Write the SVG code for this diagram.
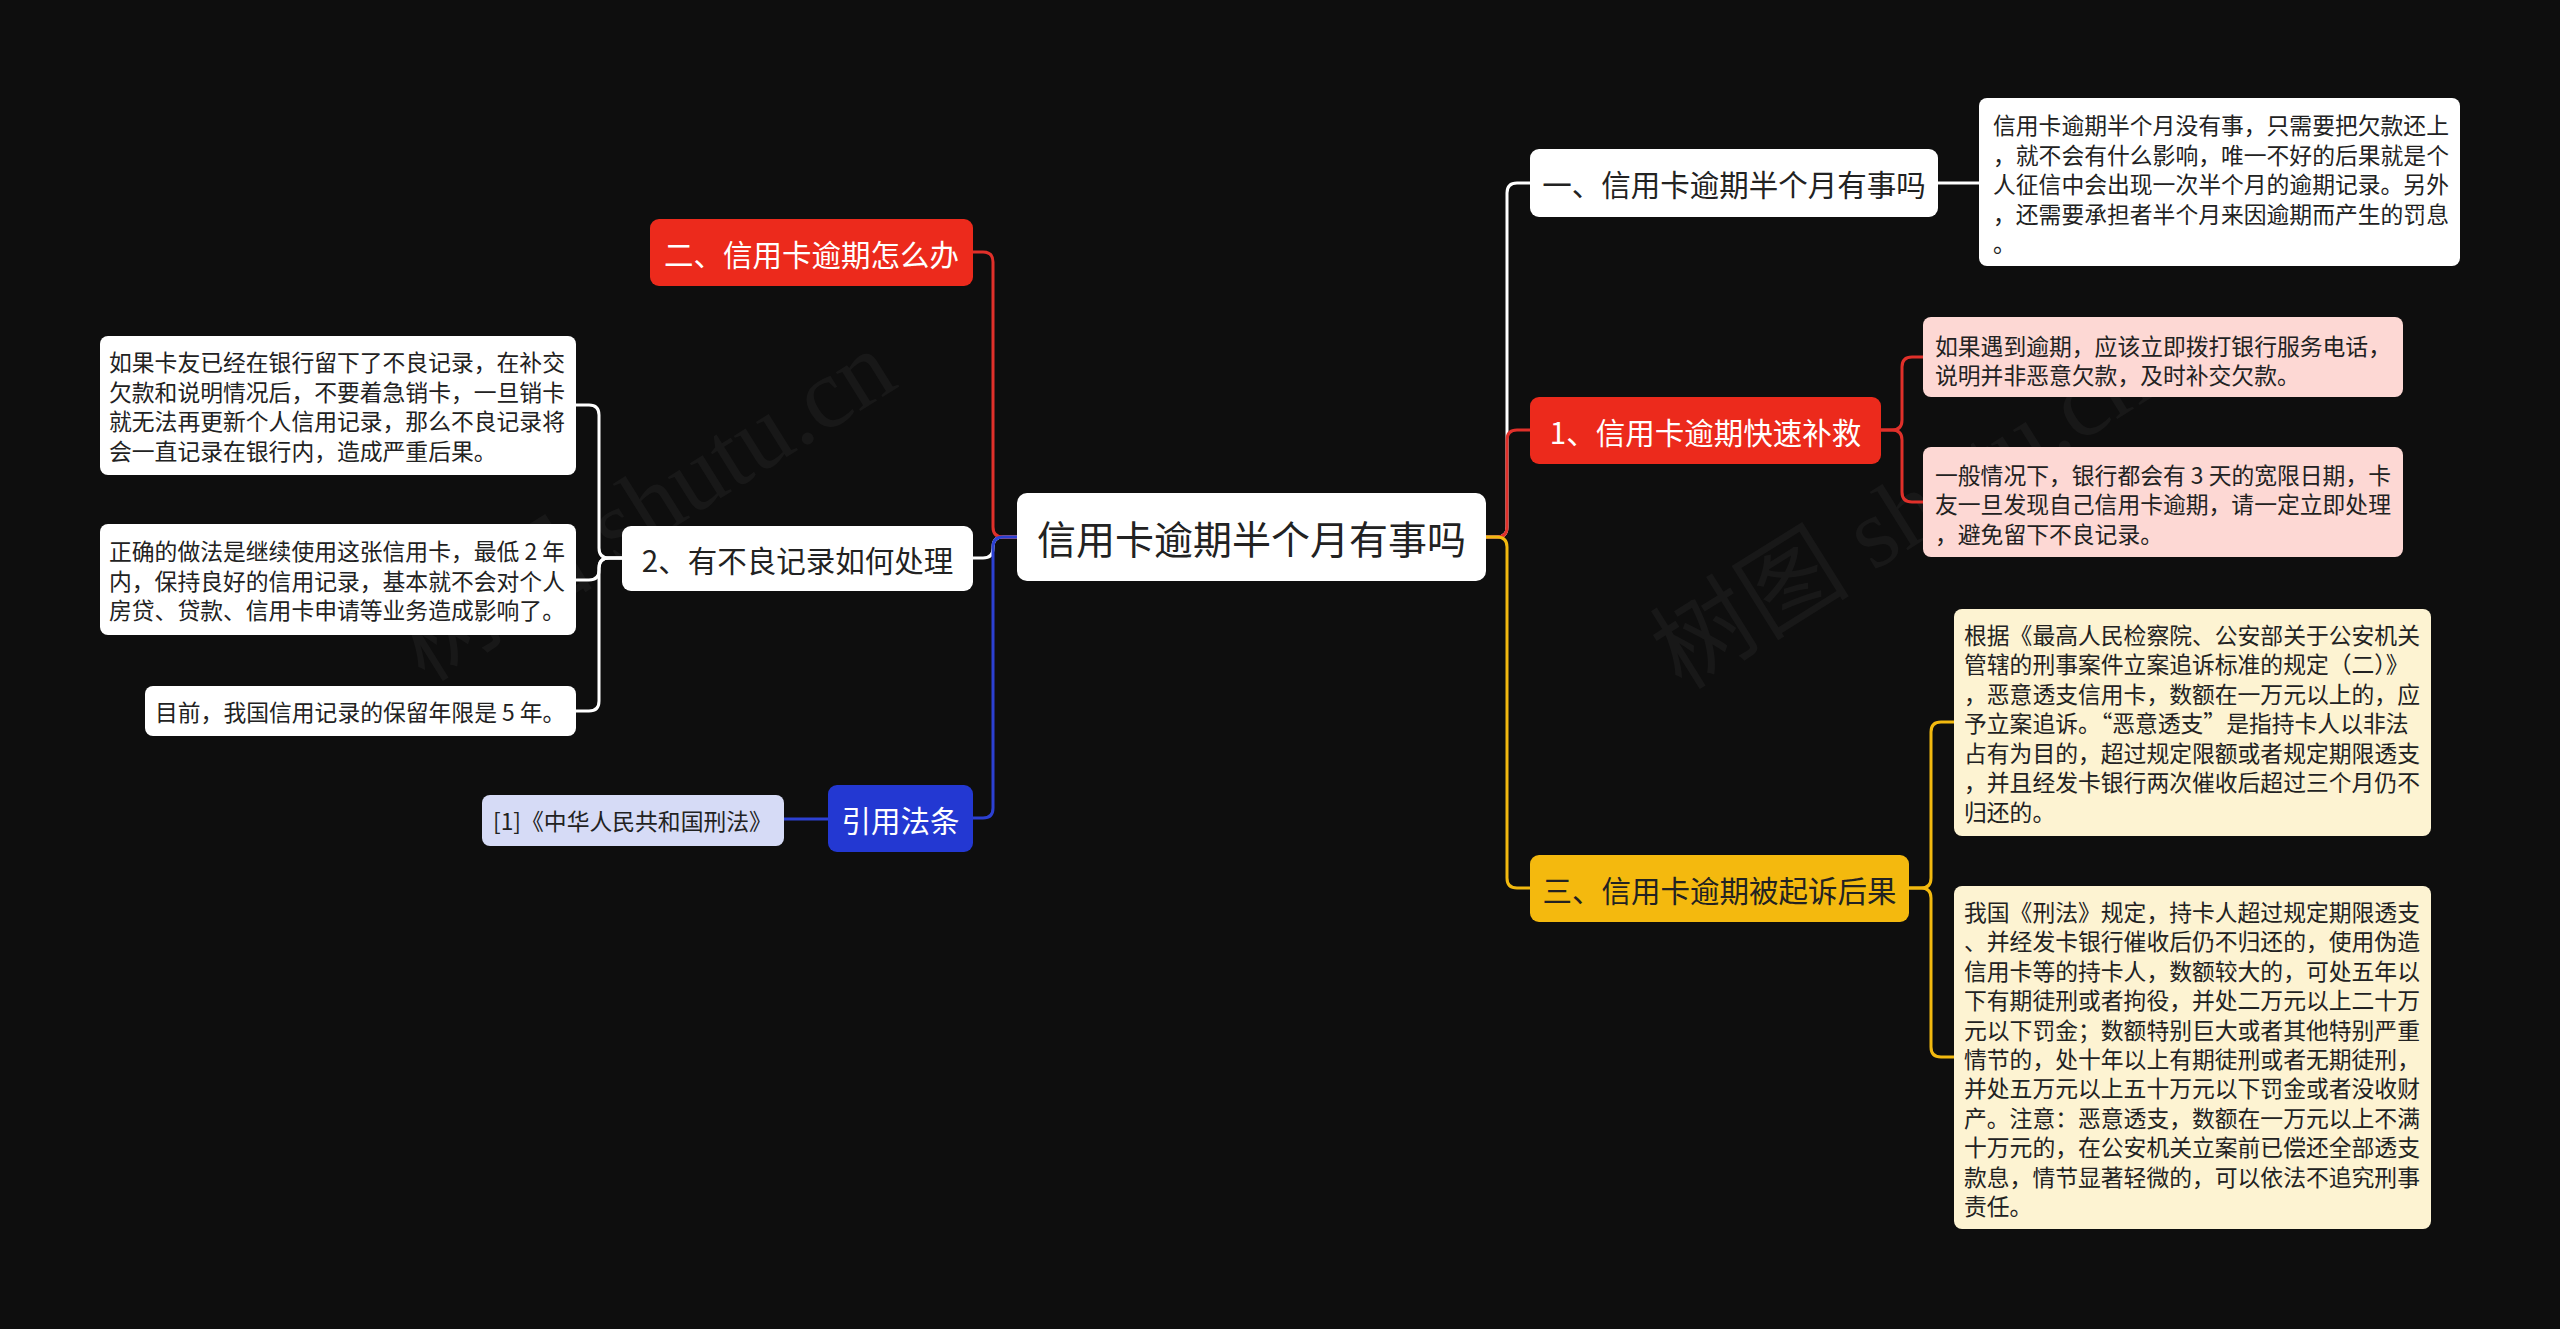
<svg xmlns="http://www.w3.org/2000/svg" width="2560" height="1329" viewBox="0 0 2560 1329">
<style>
.bg{fill:#0e0e0e}
text{font-family:"Noto Sans CJK SC","Liberation Sans",sans-serif}
.root-t{font-size:39px;fill:#222}
.nt{font-size:29.5px}
.dt{font-size:22.8px;fill:#222}
.dark{fill:#222}
.light{fill:#fff}
.c{fill:none;stroke-width:3;stroke-linecap:round;stroke-linejoin:round}
.wm{font-family:"Liberation Serif","Noto Sans CJK SC",serif;font-size:100px;fill:#fff;fill-opacity:0.045}
</style>
<rect class="bg" x="0" y="0" width="2560" height="1329"/>
<g id="watermarks">
<text class="wm" transform="translate(645,506) rotate(-32)" text-anchor="middle" dominant-baseline="central">树图 shutu.cn</text>
<text class="wm" transform="translate(1902,514) rotate(-32)" text-anchor="middle" dominant-baseline="central">树图 shutu.cn</text>
</g>
<g id="connectors">
<path class="c" stroke="#ffffff" d="M1486,537 H1497 Q1507,537 1507,527 V193 Q1507,183 1517,183 H1530"/>
<path class="c" stroke="#e0302a" d="M1486,537 H1497 Q1507,537 1507,527 V440 Q1507,430 1517,430 H1530"/>
<path class="c" stroke="#f2b90f" d="M1486,537 H1497 Q1507,537 1507,547 V878 Q1507,888 1517,888 H1530"/>
<path class="c" stroke="#ffffff" d="M1938,183 H1979"/>
<path class="c" stroke="#e0302a" d="M1881,430 H1892 Q1902,430 1902,420 V367 Q1902,357 1912,357 H1923"/>
<path class="c" stroke="#e0302a" d="M1881,430 H1892 Q1902,430 1902,440 V492 Q1902,502 1912,502 H1923"/>
<path class="c" stroke="#f2b90f" d="M1909,888 H1921 Q1931,888 1931,878 V732 Q1931,722 1941,722 H1954"/>
<path class="c" stroke="#f2b90f" d="M1909,888 H1921 Q1931,888 1931,898 V1047 Q1931,1057 1941,1057 H1954"/>
<path class="c" stroke="#ffffff" d="M1017,537 H1003 Q993,537 993,547 V548 Q993,558 983,558 H973"/>
<path class="c" stroke="#e0302a" d="M1017,537 H1003 Q993,537 993,527 V262 Q993,252 983,252 H973"/>
<path class="c" stroke="#2c40d2" d="M1017,537 H1003 Q993,537 993,547 V808 Q993,818 983,818 H973"/>
<path class="c" stroke="#ffffff" d="M622,558 H609 Q599,558 599,548 V415 Q599,405 589,405 H576"/>
<path class="c" stroke="#ffffff" d="M622,558 H609 Q599,558 599,568 V570 Q599,580 589,580 H576"/>
<path class="c" stroke="#ffffff" d="M622,558 H609 Q599,558 599,568 V701 Q599,711 589,711 H576"/>
<path class="c" stroke="#2c40d2" d="M828,819 H784"/>
</g>
<g id="root">
<rect x="1017" y="493" width="469" height="88" rx="10" fill="#ffffff"/>
<text class="root-t" x="1251.5" y="537" text-anchor="middle" dominant-baseline="central">信用卡逾期半个月有事吗</text>
</g>
<g id="node-a">
<rect x="1530" y="149" width="408" height="68" rx="9" fill="#ffffff"/>
<text class="nt dark" x="1734" y="183" text-anchor="middle" dominant-baseline="central">一、信用卡逾期半个月有事吗</text>
</g>
<g id="detail-a">
<rect x="1979" y="98" width="481" height="168" rx="8" fill="#ffffff"/>
<text class="dt" dominant-baseline="central">
<tspan x="1993" y="124">信用卡逾期半个月没有事，只需要把欠款还上</tspan>
<tspan x="1993" y="153.5">，就不会有什么影响，唯一不好的后果就是个</tspan>
<tspan x="1993" y="183">人征信中会出现一次半个月的逾期记录。另外</tspan>
<tspan x="1993" y="212.5">，还需要承担者半个月来因逾期而产生的罚息</tspan>
<tspan x="1993" y="242">。</tspan>
</text>
</g>
<g id="node-b">
<rect x="1530" y="397" width="351" height="67" rx="9" fill="#ec2a1c"/>
<text class="nt light" x="1705.5" y="430.5" text-anchor="middle" dominant-baseline="central">1、信用卡逾期快速补救</text>
</g>
<g id="detail-b1">
<rect x="1923" y="317" width="480" height="80" rx="8" fill="#fdd8d4"/>
<text class="dt" dominant-baseline="central">
<tspan x="1935" y="344.5">如果遇到逾期，应该立即拨打银行服务电话，</tspan>
<tspan x="1935" y="374">说明并非恶意欠款，及时补交欠款。</tspan>
</text>
</g>
<g id="detail-b2">
<rect x="1923" y="447" width="480" height="110" rx="8" fill="#fdd8d4"/>
<text class="dt" dominant-baseline="central">
<tspan x="1935" y="473.5">一般情况下，银行都会有 3 天的宽限日期，卡</tspan>
<tspan x="1935" y="503">友一旦发现自己信用卡逾期，请一定立即处理</tspan>
<tspan x="1935" y="532.5">，避免留下不良记录。</tspan>
</text>
</g>
<g id="node-c">
<rect x="1530" y="855" width="379" height="67" rx="9" fill="#f4b90e"/>
<text class="nt dark" x="1719.5" y="888.5" text-anchor="middle" dominant-baseline="central">三、信用卡逾期被起诉后果</text>
</g>
<g id="detail-c1">
<rect x="1954" y="609" width="477" height="227" rx="8" fill="#fdf3d2"/>
<text class="dt" dominant-baseline="central">
<tspan x="1964" y="633.5">根据《最高人民检察院、公安部关于公安机关</tspan>
<tspan x="1964" y="663">管辖的刑事案件立案追诉标准的规定（二）》</tspan>
<tspan x="1964" y="692.5">，恶意透支信用卡，数额在一万元以上的，应</tspan>
<tspan x="1964" y="722">予立案追诉。“恶意透支”是指持卡人以非法</tspan>
<tspan x="1964" y="751.5">占有为目的，超过规定限额或者规定期限透支</tspan>
<tspan x="1964" y="781">，并且经发卡银行两次催收后超过三个月仍不</tspan>
<tspan x="1964" y="810.5">归还的。</tspan>
</text>
</g>
<g id="detail-c2">
<rect x="1954" y="886" width="477" height="343" rx="8" fill="#fdf3d2"/>
<text class="dt" dominant-baseline="central">
<tspan x="1964" y="911">我国《刑法》规定，持卡人超过规定期限透支</tspan>
<tspan x="1964" y="940.4">、并经发卡银行催收后仍不归还的，使用伪造</tspan>
<tspan x="1964" y="969.8">信用卡等的持卡人，数额较大的，可处五年以</tspan>
<tspan x="1964" y="999.2">下有期徒刑或者拘役，并处二万元以上二十万</tspan>
<tspan x="1964" y="1028.6">元以下罚金；数额特别巨大或者其他特别严重</tspan>
<tspan x="1964" y="1058">情节的，处十年以上有期徒刑或者无期徒刑，</tspan>
<tspan x="1964" y="1087.4">并处五万元以上五十万元以下罚金或者没收财</tspan>
<tspan x="1964" y="1116.8">产。注意：恶意透支，数额在一万元以上不满</tspan>
<tspan x="1964" y="1146.2">十万元的，在公安机关立案前已偿还全部透支</tspan>
<tspan x="1964" y="1175.6">款息，情节显著轻微的，可以依法不追究刑事</tspan>
<tspan x="1964" y="1205">责任。</tspan>
</text>
</g>
<g id="node-left1">
<rect x="650" y="219" width="323" height="67" rx="9" fill="#ec2a1c"/>
<text class="nt light" x="811.5" y="252.5" text-anchor="middle" dominant-baseline="central">二、信用卡逾期怎么办</text>
</g>
<g id="node-left2">
<rect x="622" y="526" width="351" height="65" rx="9" fill="#ffffff"/>
<text class="nt dark" x="797.5" y="558.5" text-anchor="middle" dominant-baseline="central">2、有不良记录如何处理</text>
</g>
<g id="detail-l1">
<rect x="100" y="336" width="476" height="139" rx="8" fill="#ffffff"/>
<text class="dt" dominant-baseline="central">
<tspan x="109" y="361">如果卡友已经在银行留下了不良记录，在补交</tspan>
<tspan x="109" y="390.5">欠款和说明情况后，不要着急销卡，一旦销卡</tspan>
<tspan x="109" y="420">就无法再更新个人信用记录，那么不良记录将</tspan>
<tspan x="109" y="449.5">会一直记录在银行内，造成严重后果。</tspan>
</text>
</g>
<g id="detail-l2">
<rect x="100" y="524" width="476" height="111" rx="8" fill="#ffffff"/>
<text class="dt" dominant-baseline="central">
<tspan x="109" y="550">正确的做法是继续使用这张信用卡，最低 2 年</tspan>
<tspan x="109" y="579.5">内，保持良好的信用记录，基本就不会对个人</tspan>
<tspan x="109" y="609">房贷、贷款、信用卡申请等业务造成影响了。</tspan>
</text>
</g>
<g id="detail-l3">
<rect x="145" y="686" width="431" height="50" rx="8" fill="#ffffff"/>
<text class="dt" x="155" y="711.5" dominant-baseline="central">目前，我国信用记录的保留年限是 5 年。</text>
</g>
<g id="node-left3">
<rect x="828" y="785" width="145" height="67" rx="9" fill="#2338d2"/>
<text class="nt light" x="900.5" y="818.5" text-anchor="middle" dominant-baseline="central">引用法条</text>
</g>
<g id="detail-ref">
<rect x="482" y="795" width="302" height="51" rx="8" fill="#d6dbf6"/>
<text class="dt" x="493" y="820.5" dominant-baseline="central">[1]《中华人民共和国刑法》</text>
</g>
</svg>
